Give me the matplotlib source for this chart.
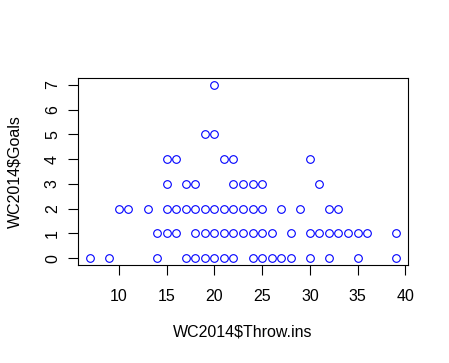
import matplotlib
matplotlib.use("Agg")
from matplotlib import pyplot as plt

plt.rcParams['font.family'] = ['Liberation Sans', 'DejaVu Sans']

# throw-ins observed for each goal count (unique points as plotted)
throw_ins_0 = [7, 9, 14, 17, 18, 19, 20, 21, 22, 24, 25, 26, 27, 28, 30, 32, 35, 39]
throw_ins_1 = [14, 15, 16, 18, 19, 20, 21, 22, 23, 24, 25, 26, 28, 30, 31, 32, 33, 34, 35, 36, 39]
throw_ins_2 = [10, 11, 13, 15, 16, 17, 18, 19, 20, 21, 22, 23, 24, 25, 27, 29, 32, 33]
throw_ins_3 = [15, 17, 18, 22, 23, 24, 25, 31]
throw_ins_4 = [15, 16, 21, 22, 30]
throw_ins_5 = [19, 20]
throw_ins_7 = [20]

groups = [(0, throw_ins_0), (1, throw_ins_1), (2, throw_ins_2), (3, throw_ins_3),
          (4, throw_ins_4), (5, throw_ins_5), (7, throw_ins_7)]
throw_ins = []
goals = []
for g, xs in groups:
    throw_ins += xs
    goals += [g] * len(xs)

xticks = [10, 15, 20, 25, 30, 35, 40]
yticks = [0, 1, 2, 3, 4, 5, 6, 7]

W, H = 449, 363
fig = plt.figure(figsize=(W / 100, H / 100), dpi=100)
ax = fig.add_axes([78 / W, 1 - 265 / H, 330 / W, 187 / H])

ax.plot(throw_ins, goals, ls='none', marker='o', ms=5.5, mfc='none',
        mec='blue', mew=0.8)

ax.set_xlim(5.72, 40.28)
ax.set_ylim(-0.28, 7.28)
ax.set_xticks(xticks)
ax.set_yticks(yticks)
ax.set_yticklabels([str(v) for v in yticks], rotation=90, va='center')
ax.tick_params(direction='out', length=7, width=0.8, labelsize=11.5)
ax.tick_params(axis='x', pad=10)
ax.tick_params(axis='y', pad=6)
for s in ax.spines.values():
    s.set_linewidth(0.8)

ax.set_xlabel('WC2014$Throw.ins', fontsize=11.5, labelpad=15)
ax.set_ylabel('WC2014$Goals', fontsize=11.5, labelpad=16)

fig.savefig('out.png', dpi=100)
